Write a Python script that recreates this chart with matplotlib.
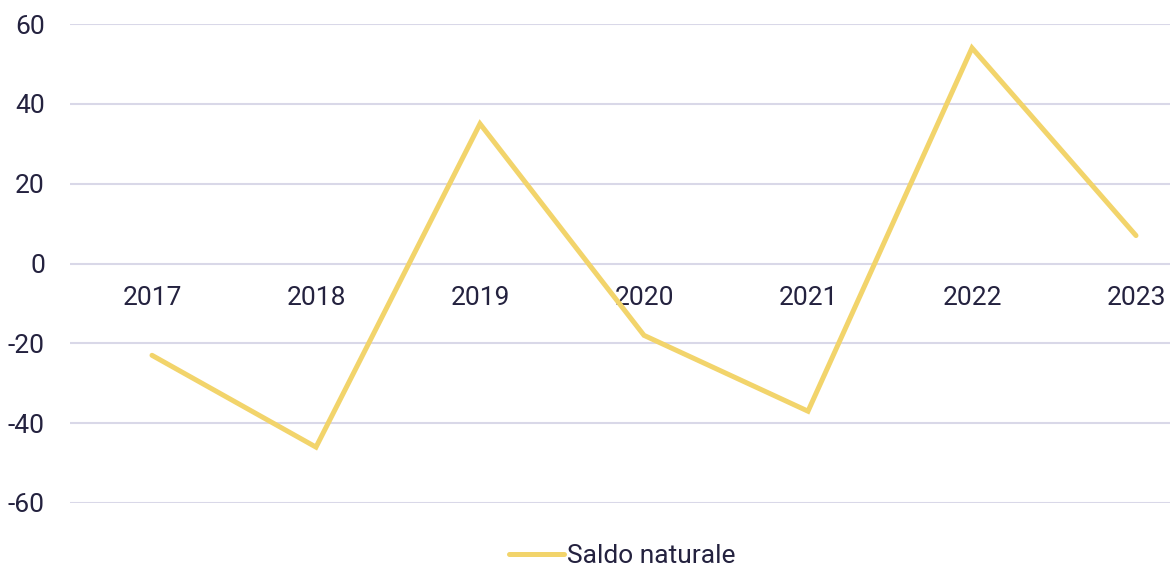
import matplotlib
matplotlib.use("Agg")
import matplotlib.pyplot as plt
from matplotlib import rcParams

# fonts and colours
rcParams['font.family'] = ['Roboto', 'DejaVu Sans']
text_color = '#24223f'
grid_color = '#d9d8e8'
line_color = '#f2d46b'

# data
years = ['2017', '2018', '2019', '2020', '2021', '2022', '2023']
saldo_naturale = [-23, -46, 35, -18, -37, 54, 7]
y_ticks = [-60, -40, -20, 0, 20, 40, 60]

fig = plt.figure(figsize=(11.7, 5.67), dpi=100)
ax = fig.add_axes([70 / 1170, 1 - 503 / 567, 1 - 70 / 1170, (503 - 24) / 567])

x = list(range(len(years)))
ax.plot(x, saldo_naturale, color=line_color, linewidth=3.6,
        solid_capstyle='round', solid_joinstyle='miter', label='Saldo naturale', zorder=3)

ax.set_ylim(-60, 60)
ax.set_xlim(-0.5, (1170 - 152) / 164)
ax.set_yticks(y_ticks)
ax.set_yticklabels([str(v) for v in y_ticks])
ax.grid(axis='y', color=grid_color, linewidth=1.5)
ax.set_axisbelow(True)

# category labels sit just under the zero line
ax.spines['bottom'].set_position(('data', 0))
for s in ['top', 'right', 'left', 'bottom']:
    ax.spines[s].set_visible(False)
ax.set_xticks(x)
ax.set_xticklabels(years)
ax.tick_params(axis='x', length=0, pad=16, labelsize=19, labelcolor=text_color)
ax.tick_params(axis='y', length=0, pad=18, labelsize=19, labelcolor=text_color)

leg = fig.legend(loc='center', bbox_to_anchor=(622 / 1170, 1 - 556 / 567),
                 frameon=False, fontsize=19, handlelength=2.1, handletextpad=0.1)
for t in leg.get_texts():
    t.set_color(text_color)

fig.savefig('out.png', dpi=100)
